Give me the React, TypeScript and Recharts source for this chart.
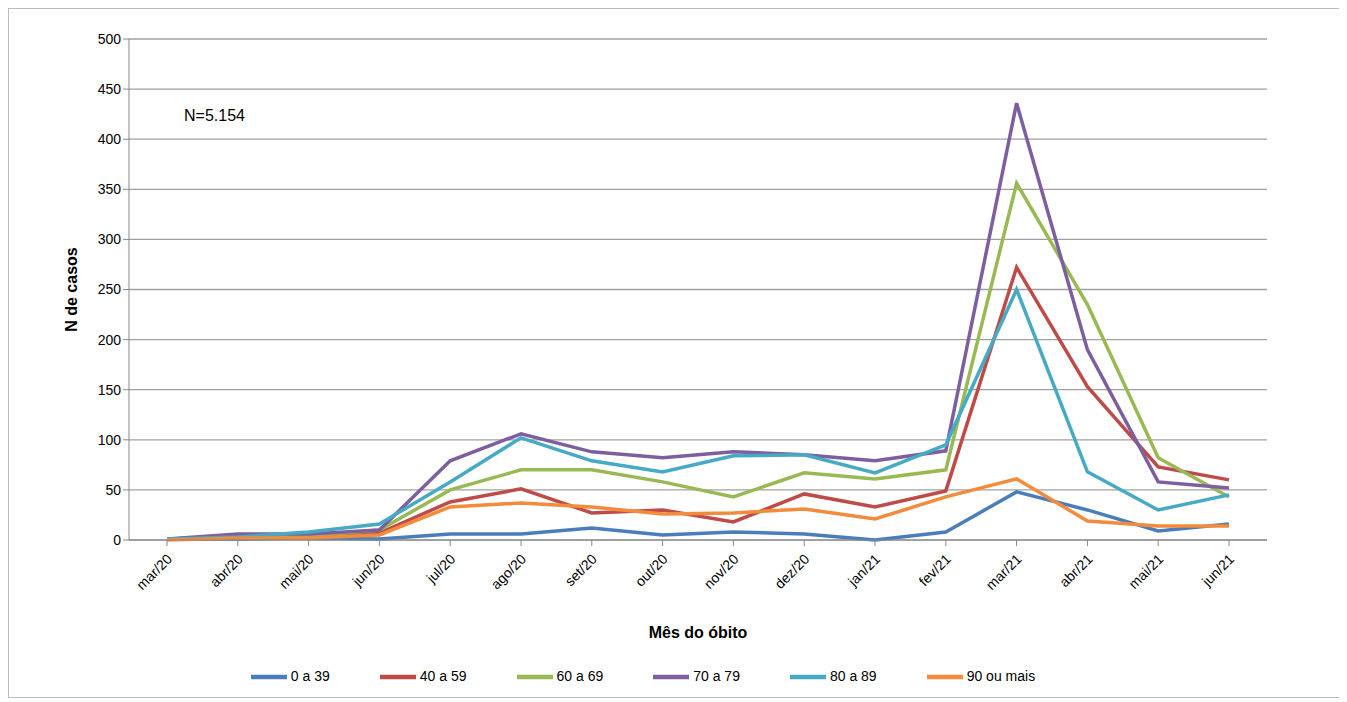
import React from 'react';
import { LineChart, Line, XAxis, YAxis, CartesianGrid, Legend, Label } from 'recharts';

const months = ['mar/20','abr/20','mai/20','jun/20','jul/20','ago/20','set/20','out/20','nov/20','dez/20','jan/21','fev/21','mar/21','abr/21','mai/21','jun/21'];
const s0_39 = [1,1,2,1,6,6,12,5,8,6,0,8,48,30,9,16];
const s40_59 = [1,3,4,7,38,51,27,30,18,46,33,49,272,153,73,60];
const s60_69 = [1,3,4,10,50,70,70,58,43,67,61,70,356,235,82,43];
const s70_79 = [1,6,6,10,79,106,88,82,88,85,79,89,436,190,58,52];
const s80_89 = [1,3,8,16,58,102,79,68,84,85,67,95,250,68,30,45];
const s90 = [0,2,2,5,33,37,33,26,27,31,21,43,61,19,14,14];
const yTicks = [0,50,100,150,200,250,300,350,400,450,500];

const data = months.map((m, i) => ({ m, a: s0_39[i], b: s40_59[i], c: s60_69[i], d: s70_79[i], e: s80_89[i], f: s90[i] }));
const series = [
  { k: 'a', n: '0 a 39', c: '#4A7EBB' },
  { k: 'b', n: '40 a 59', c: '#BE4B48' },
  { k: 'c', n: '60 a 69', c: '#98B954' },
  { k: 'd', n: '70 a 79', c: '#7D5FA0' },
  { k: 'e', n: '80 a 89', c: '#46AAC5' },
  { k: 'f', n: '90 ou mais', c: '#F38B3C' },
];
const font = 'Liberation Sans, Arial, sans-serif';

const Tick = (p: any) => (
  <text x={p.x + 6} y={p.y + 12} textAnchor="end" transform={`rotate(-45 ${p.x + 6} ${p.y + 12})`} fontSize={14} fill="#000" fontFamily={font}>{p.payload.value}</text>
);

export default function App() {
  return (
    <div style={{ width: 1335, height: 690, border: '1px solid #bbb', boxSizing: 'border-box', position: 'relative', fontFamily: font }}>
      <LineChart width={1333} height={688} data={data} margin={{ top: 30, right: 75, left: 60, bottom: 2 }}>
        <CartesianGrid vertical={false} stroke="#a0a0a0" strokeWidth={1.3} />
        <XAxis dataKey="m" padding={{ left: 38, right: 38 }} tick={<Tick />} height={119} stroke="#888" tickLine={{ stroke: '#888' }} interval={0}>
          <Label value="Mês do óbito" position="insideBottom" offset={21} style={{ fontWeight: 'bold', fontSize: 16, fill: '#000' }} />
        </XAxis>
        <YAxis domain={[0, 500]} ticks={yTicks} width={60} tick={{ fontSize: 14, fill: '#000' }} stroke="#888" tickLine={{ stroke: '#888' }}>
          <Label value="N de casos" angle={-90} position="insideLeft" offset={2} style={{ fontWeight: 'bold', fontSize: 16, fill: '#000', textAnchor: 'middle' }} />
        </YAxis>
        <Legend verticalAlign="bottom" iconType="plainline" iconSize={36} wrapperStyle={{ fontSize: 14, paddingTop: 0 }} formatter={(v: any) => <span style={{ color: '#000', marginRight: 40 }}>{v}</span>} />
        {series.map(s => (
          <Line key={s.k} dataKey={s.k} name={s.n} stroke={s.c} strokeWidth={3.5} dot={false} isAnimationActive={false} />
        ))}
      </LineChart>
      <div style={{ position: 'absolute', left: 175, top: 98, fontSize: 16 }}>N=5.154</div>
    </div>
  );
}
